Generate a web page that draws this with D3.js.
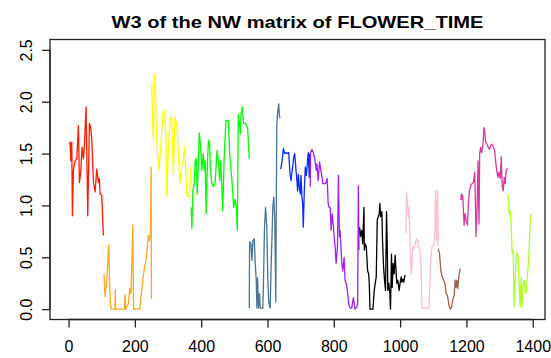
<!DOCTYPE html>
<html>
<head>
<meta charset="utf-8">
<script src="https://cdn.jsdelivr.net/npm/d3@7"></script>
<style>
  body { margin: 0; background: #fff; }
  text { font-family: "Liberation Sans", Arial, Helvetica, sans-serif; fill: #000; }
</style>
</head>
<body>
<script>
// W3 values per module as [index, value]
const red = [[1.5,1.59],[4.6,1.61],[6.6,1.43],[9.6,1.61],[11.6,0.90],[14.6,1.34],[19.6,1.43],[24.7,1.45],[29.7,1.77],[32.7,1.22],[36.7,1.32],[40.8,1.56],[44.8,1.45],[47.8,1.58],[52.8,1.95],[57.9,0.90],[62.9,1.79],[66.9,1.75],[69.9,1.64],[75,1.22],[80,1.13],[85,1.35],[90,1.22],[93,1.26],[95,1.11],[100,1.10],[105,0.71]];
const orange = [[107,0.34],[110,0.12],[115,0.26],[121,0.62],[125,0.13],[128,0.0],[140,0.0],[141,0.19],[142,0.0],[168,0.0],[170,0.14],[172,0.0],[180,0.05],[185,0.2],[188,0.15],[191,0.45],[194,0.81],[196,0.0],[215,0.0],[221,0.2],[228,0.38],[234,0.48],[241,0.71],[243,0.66],[247,0.72],[249,1.37],[250,0.1]];
const yellow = [[251,2.17],[253,1.79],[256,1.64],[258,2.25],[261,2.27],[264,1.79],[268,1.53],[273,1.34],[279,1.63],[286,1.91],[289,1.91],[293,1.73],[296,1.10],[301,1.55],[306,1.82],[311,1.86],[316,1.30],[321,1.85],[327,1.77],[331,1.51],[336,1.21],[341,1.37],[346,1.45],[351,1.57],[356,1.11],[361,1.08],[366,1.15],[369,1.37]];
const green = [[370,0.98],[372,0.78],[375,1.14],[379,1.21],[382,1.43],[385,1.45],[388,1.11],[392,1.43],[394,1.70],[398,1.59],[402,1.34],[406,1.50],[410,1.34],[412,1.43],[415,0.92],[419,1.43],[422,1.63],[425,1.61],[428,1.34],[432,1.21],[437,1.18],[442,1.22],[448,1.53],[452,1.43],[456,1.24],[459,1.43],[462,1.21],[465,0.95],[469,1.43],[472,1.66],[475,1.82],[482,1.82],[486,1.50],[492,1.27],[496,1.08],[498,0.98],[502,1.06],[506,0.98],[509,0.76],[512,1.88],[515,1.80],[518,1.69],[520,1.88],[524,1.95],[528,1.79],[534,1.79],[540,1.75],[545,1.45]];
const steelblue = [[545,0.01],[546,0.65],[550,0.63],[553,0.47],[556,0.66],[560,0.68],[563,0.44],[566,0.28],[568,0.01],[570,0.30],[573,0.01],[576,0.15],[578,0.01],[586,0.01],[588,0.28],[591,0.79],[594,0.98],[598,0.79],[601,0.28],[604,0.06],[608,0.01],[611,0.41],[616,0.98],[619,1.08],[622,0.86],[625,0.07],[628,1.78],[631,1.91],[634,1.98],[636,1.86],[638,1.84]];
const blue = [[640,1.35],[644,1.43],[648,1.55],[652,1.50],[656,1.51],[660,1.50],[664,1.51],[668,1.30],[671,1.24],[675,1.35],[679,1.46],[682,1.50],[686,1.34],[688,1.27],[691,1.14],[693,1.30],[696,1.18],[699,1.11],[701,1.29],[704,1.08],[706,1.02],[708,0.79],[711,1.14],[714,1.37],[717,1.29],[720,1.40],[723,1.51],[726,1.27],[727,1.50]];
const purple = [[729,1.18],[730,1.51],[734,1.54],[738,1.51],[742,1.46],[747,1.34],[749,1.40],[753,1.24],[757,1.42],[761,1.34],[765,1.26],[767,1.21],[771,1.21],[775,1.21],[780,1.26],[783,1.02],[786,0.98],[789,0.98],[792,0.76],[795,0.92],[799,0.79],[801,0.70],[804,0.60],[807,0.44],[811,0.60],[814,1.29],[817,0.70],[819,0.76],[822,0.57],[824,0.44],[827,0.37],[831,0.50],[834,0.28],[837,0.25],[841,0.18],[845,0.05],[849,0.01],[854,0.01],[859,0.11],[864,0.0],[869,0.02],[872,0.05],[874,1.19],[876,0.57]];
const black = [[878,0.79],[880,0.70],[884,0.76],[887,0.63],[891,0.98],[892,0.57],[895,0.63],[898,0.60],[902,0.37],[905,0.34],[907,0.25],[909,0.0],[915,0.0],[918,0.0],[922,0.18],[925,0.25],[928,0.31],[931,0.86],[934,0.89],[937,0.92],[939,1.02],[941,0.89],[945,0.94],[947,0.66],[950,0.41],[953,0.28],[956,0.18],[959,0.94],[961,0.66],[963,0.18],[966,0.25],[969,0.15],[971,0.0],[974,0.53],[976,0.21],[979,0.44],[982,0.34],[985,0.52],[987,0.41],[990,0.25],[993,0.28],[997,0.18],[1000,0.25],[1003,0.31],[1005,0.26],[1008,0.29],[1011,0.26],[1015,0.33]];
const pink = [[1018,0.73],[1019,1.13],[1022,1.05],[1025,0.88],[1027,0.98],[1030,0.66],[1033,0.34],[1035,0.37],[1038,0.60],[1042,0.58],[1046,0.63],[1050,0.68],[1053,0.66],[1056,0.60],[1060,0.57],[1063,0.44],[1066,0.01],[1086,0.01],[1088,0.09],[1092,0.44],[1096,0.60],[1100,0.61],[1104,0.66],[1107,1.14],[1110,0.66],[1113,1.14],[1115,0.60]];
const brown = [[1115,0.58],[1119,0.53],[1123,0.37],[1127,0.31],[1131,0.28],[1135,0.25],[1139,0.15],[1143,0.13],[1147,0.04],[1151,0.0],[1155,0.02],[1159,0.09],[1163,0.13],[1166,0.28],[1169,0.21],[1171,0.28],[1174,0.20],[1177,0.31],[1181,0.39]];
const magenta = [[1183,1.05],[1185,1.11],[1187,1.06],[1189,1.10],[1191,0.95],[1193,0.81],[1196,0.92],[1199,0.86],[1203,0.81],[1206,1.02],[1209,1.14],[1213,1.19],[1217,1.21],[1221,1.22],[1225,1.32],[1227,1.05],[1229,0.70],[1232,0.95],[1235,1.43],[1238,0.82],[1240,1.50],[1243,1.56],[1246,1.51],[1250,1.59],[1253,1.75],[1255,1.72],[1258,1.61],[1262,1.59],[1266,1.56],[1270,1.54],[1273,1.58],[1277,1.59],[1282,1.56],[1285,1.53],[1288,1.43],[1292,1.32],[1295,1.27],[1298,1.32],[1302,1.26],[1305,1.47],[1308,1.18],[1311,1.14],[1314,1.27],[1317,1.21],[1320,1.34],[1322,1.35],[1325,1.35]];
const greenyellow = [[1326,1.11],[1329,0.92],[1332,0.95],[1335,0.82],[1338,0.54],[1341,0.57],[1344,0.02],[1347,0.28],[1350,0.50],[1353,0.55],[1356,0.50],[1359,0.25],[1362,0.02],[1365,0.31],[1368,0.02],[1371,0.25],[1374,0.28],[1377,0.17],[1380,0.15],[1383,0.28],[1386,0.40],[1389,0.57],[1392,0.81],[1395,0.92]];

const modules = [red, orange, yellow, green, steelblue, blue, purple, black, pink, brown, magenta, greenyellow];
const moduleColors = ["#ff1a00", "#ffa520", "#ffff00", "#00ff00", "#4a7498", "#0a2aff",
                      "#a020f0", "#000000", "#ffc0cb", "#a0604a", "#d63aa0", "#adff2f"];

const xTicks = [0, 200, 400, 600, 800, 1000, 1200, 1400];
const yTicks = [0.0, 0.5, 1.0, 1.5, 2.0, 2.5];
const title = "W3 of the NW matrix of FLOWER_TIME";

const width = 551, height = 358;
const box = { left: 50, top: 39.5, right: 545, bottom: 319.5 };

const svg = d3.select("body").append("svg")
  .attr("width", width)
  .attr("height", height);

const x = d3.scaleLinear().domain([-56, 1437]).range([box.left, box.right]);
const y = d3.scaleLinear().domain([-0.1, 2.6]).range([box.bottom, box.top]);

const line = d3.line().x(d => x(d[0])).y(d => y(d[1]));

svg.append("g")
  .selectAll("path")
  .data(modules)
  .enter()
  .append("path")
  .attr("d", line)
  .attr("fill", "none")
  .attr("stroke", (d, i) => moduleColors[i])
  .attr("stroke-width", 1.3)
  .attr("stroke-linejoin", "round");

// plot frame
svg.append("rect")
  .attr("x", box.left).attr("y", box.top)
  .attr("width", box.right - box.left).attr("height", box.bottom - box.top)
  .attr("fill", "none").attr("stroke", "#222").attr("stroke-width", 1.3);

// axes in R style: outward ticks, line spanning first to last tick
const xAxis = svg.append("g")
  .attr("transform", `translate(0,${box.bottom})`)
  .call(d3.axisBottom(x).tickValues(xTicks).tickSize(8).tickPadding(13).tickFormat(d3.format("d")));
const yAxis = svg.append("g")
  .attr("transform", `translate(${box.left},0)`)
  .call(d3.axisLeft(y).tickValues(yTicks).tickSize(8).tickPadding(0).tickFormat(d3.format(".1f")));

[xAxis, yAxis].forEach(g => {
  g.select(".domain").remove();
  g.selectAll(".tick line").attr("stroke", "#222").attr("stroke-width", 1.3);
  g.selectAll("text").style("font-size", "16px").attr("fill", "#000");
});

xAxis.append("line")
  .attr("x1", x(xTicks[0])).attr("x2", x(xTicks[xTicks.length - 1]))
  .attr("stroke", "#222").attr("stroke-width", 1.3);
yAxis.append("line")
  .attr("y1", y(yTicks[0])).attr("y2", y(yTicks[yTicks.length - 1]))
  .attr("stroke", "#222").attr("stroke-width", 1.3);

// rotated y labels, as in R's default las = 0
yAxis.selectAll(".tick text")
  .attr("x", null).attr("dy", null)
  .attr("text-anchor", "middle")
  .attr("transform", "translate(-24,0) rotate(-90) translate(0,6)");

svg.append("text")
  .attr("x", (box.left + box.right) / 2)
  .attr("y", 28)
  .attr("text-anchor", "middle")
  .style("font-size", "17px")
  .style("font-weight", "bold")
  .attr("textLength", 372)
  .attr("lengthAdjust", "spacingAndGlyphs")
  .text(title);
</script>
</body>
</html>
